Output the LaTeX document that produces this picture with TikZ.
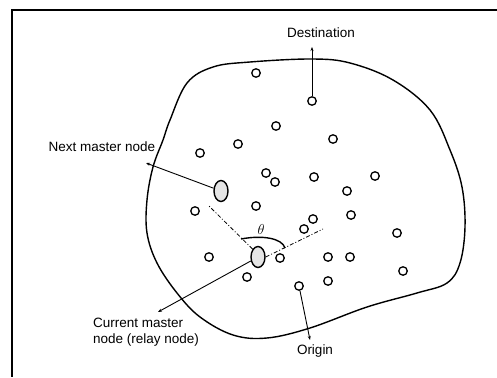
\documentclass[tikz,border=0pt]{standalone}
\usepackage{fontspec}
\setmainfont{Liberation Sans}
\usetikzlibrary{shapes.geometric,arrows.meta}
\begin{document}
\begin{tikzpicture}[x=1pt,y=-1pt,
  dot/.style={circle,draw,line width=1.3pt,minimum size=8.5pt,inner sep=0pt},
  master/.style={ellipse,draw,line width=1.4pt,minimum width=14pt,minimum height=21pt,inner sep=0pt,fill=gray!20},
  arr/.style={line width=0.9pt,-{Stealth[length=4pt,width=3pt]}},
  dd/.style={line width=0.8pt,dash pattern=on 4pt off 2pt on 1pt off 2pt},
  lbl/.style={font=\fontsize{13.5}{15.5}\selectfont,inner sep=0pt}]
\useasboundingbox (0,0) rectangle (497,377);
\fill[white] (0,0) rectangle (497,377);
% frame
\draw[line width=1.1pt] (497,10) -- (12,10) -- (12,377);
% region outline
\draw[line width=1.4pt] plot[smooth cycle,tension=0.6] coordinates {
 (170,120) (187,83) (213,67) (250,62) (312,59) (350,63) (393,80) (430,110)
 (450,150) (462,187) (465,227) (460,263) (447,283) (417,293) (367,307)
 (310,328) (267,338) (233,335) (200,317) (177,293) (157,263) (147,233)
 (147,200) (153,167) (163,140)};
% ordinary nodes
\node[dot] (a1) at (256,73) {};
\node[dot] (dest) at (312,101) {};
\node[dot] (a3) at (276,126) {};
\node[dot] (a4) at (238,144) {};
\node[dot] (a5) at (333,139) {};
\node[dot] (a6) at (200,153) {};
\node[dot] (a7) at (266,173) {};
\node[dot] (a8) at (275,182) {};
\node[dot] (a9) at (314,177) {};
\node[dot] (a10) at (375,176) {};
\node[dot] (a11) at (347,191) {};
\node[dot] (a12) at (256,206) {};
\node[dot] (a13) at (195,211) {};
\node[dot] (a14) at (351,215) {};
\node[dot] (a15) at (313,219) {};
\node[dot] (a16) at (304,229) {};
\node[dot] (a17) at (397,233) {};
\node[dot] (a18) at (209,257) {};
\node[dot] (a19) at (280,258) {};
\node[dot] (a20) at (328,257) {};
\node[dot] (a21) at (350,257) {};
\node[dot] (a22) at (403,271) {};
\node[dot] (a23) at (247,277) {};
\node[dot] (a24) at (328,281) {};
\node[dot] (orig) at (299,286) {};
% master nodes
\node[master] (next) at (221,191) {};
\node[master] (cur) at (258,257) {};
% dashed direction lines and angle
\coordinate (d1) at (209,206);
\coordinate (d2) at (323,229);
\draw[dd] (cur.north west) -- (d1);
\draw[dd] (cur.east) -- (d2);
\draw[line width=1.4pt] (241,239) .. controls (262,235) and (282,238) .. (285,248);
\node[lbl] (theta) at (261,229) {$\theta$};
% labels and arrows
\coordinate (dtip) at (312,47);
\coordinate (ntip) at (146,163);
\coordinate (ctip) at (158,312);
\coordinate (otip) at (310,340);
\draw[arr] (dest) -- (dtip);
\draw[arr] (next) -- (ntip);
\draw[arr] (cur) -- (ctip);
\draw[arr] (orig) -- (otip);
\node[lbl] (dlab) at (321,33) {Destination};
\node[lbl] (nlab) at (102,147) {Next master node};
\node[lbl,align=left,anchor=west] (clab) at (93,332) {Current master\\node (relay node)};
\node[lbl] (olab) at (315,351) {Origin};
\end{tikzpicture}
\end{document}
